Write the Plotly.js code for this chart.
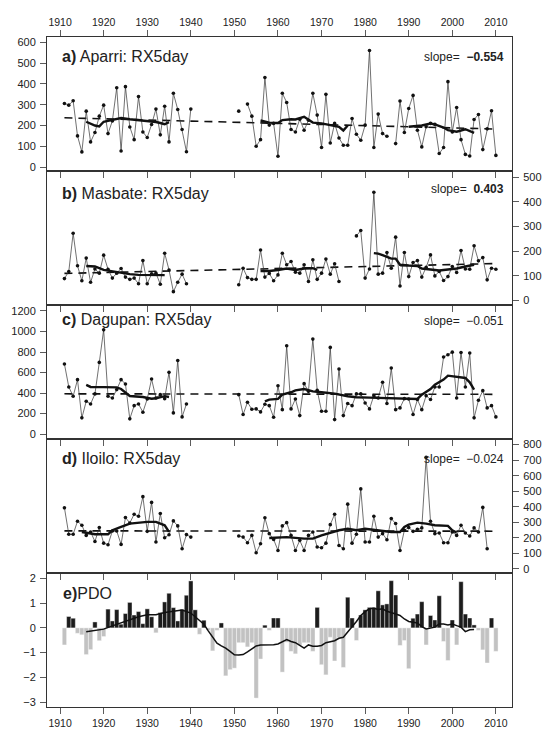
<!DOCTYPE html>
<html><head><meta charset="utf-8">
<script src="https://cdn.plot.ly/plotly-3.0.1.min.js"></script>
<style>html,body{margin:0;padding:0;background:#fff}</style>
</head><body><div id="chart" style="width:546px;height:732px"></div>
<script>
const years = [];
for (let y = 1911; y <= 2010; y++) years.push(y);

const aparri = [
306,298,319,150,73,269,121,166,245,298,
161,222,382,77,387,193,132,339,169,142,
205,279,155,293,121,355,277,181,74,279,
null,null,null,null,null,null,null,null,null,null,
269,null,303,245,100,132,431,202,210,52,
355,311,181,169,230,177,225,355,250,94,
350,116,210,140,105,105,234,158,129,202,
561,94,255,161,148,null,113,318,166,282,
345,177,97,194,210,206,65,94,411,169,
287,132,61,53,229,253,84,184,271,56];

const masbate = [
89,118,273,141,80,172,74,128,111,184,
127,91,111,130,95,86,91,68,162,68,
108,111,66,192,124,36,74,107,68,null,
null,null,null,null,null,null,null,null,null,null,
64,131,93,86,86,205,95,110,80,104,
192,145,158,115,111,145,77,165,86,111,
168,107,149,77,null,null,null,262,284,91,
128,439,107,111,195,131,257,59,195,97,
154,162,95,135,185,100,118,81,97,138,
114,203,128,127,222,161,174,84,131,127];

const dagupan = [
683,460,369,531,159,320,294,392,699,1016,
369,353,434,531,489,149,278,294,214,343,
537,353,385,346,602,207,718,168,294,null,
null,null,null,null,null,null,null,null,null,null,
385,191,311,243,246,217,291,278,165,472,
239,861,246,343,181,492,417,926,427,223,
223,845,142,634,181,298,278,392,392,304,
246,375,353,505,298,644,239,256,346,343,
191,337,239,375,337,460,460,751,773,799,
353,796,460,790,159,330,424,256,278,168];

const iloilo = [
394,223,223,307,281,216,238,177,266,166,
156,244,244,158,331,296,352,339,465,242,
428,173,357,201,220,309,277,130,221,205,
null,null,null,null,null,null,null,null,null,null,
212,205,169,216,104,162,329,227,190,119,
277,298,216,119,184,119,216,238,141,136,
166,285,352,151,130,417,166,223,515,173,
173,339,205,227,188,324,292,119,249,266,
242,255,264,718,307,227,231,169,169,238,
216,281,231,212,264,238,396,130,null,null];

const pdo = [
-0.69,0.46,0.39,-0.22,-0.28,-1.08,-0.88,0.24,-0.52,-0.35,
0.76,0.28,0.74,0.15,0.58,1.03,0.52,0.66,0.17,0.77,
0.45,-0.2,0.62,1.05,1.4,0.82,0.28,0.75,1.32,1.9,
0.73,-0.26,0.31,-0.1,-0.93,-0.1,0.2,-1.94,-1.69,-1.63,
-0.6,-0.6,-0.77,-0.6,-2.84,-1.26,0.11,-0.1,0.4,0.4,
-1.79,-0.58,-0.95,-1.05,-0.7,-0.6,-0.6,-0.95,0.83,-1.49,
-1.9,-0.38,-1.34,-0.4,-1.6,1.24,0.4,-0.51,0.52,0.73,
0.83,0.83,1.5,0.93,0.97,1.91,1.33,-0.71,-0.51,-1.65,
0.39,0.56,1.06,-0.69,0.5,0.32,1.3,-0.55,-1.32,0.32,
-0.69,1.87,0.56,0.4,0.12,-0.1,-0.89,-1.42,0.4,-0.95];

// smoothed curves, null = break
const smoothAYears = [1916,1917,1918,1919,1920,1921,1922,1923,1924,1926,1928,1930,1932,1933,1934,1935,null,
  1956,1958,1960,1961,1963,1964,1966,1967,1968,1970,1972,1974,1975,1976,null,
  1990,1992,1993,1995,1996,1998,1999,2001,2003,2005];
const smoothAVals = [218,208,200,196,218,222,226,232,236,230,226,222,217,212,206,216,null,
  224,214,212,226,230,229,242,228,214,210,202,194,176,200,null,
  194,196,200,210,205,190,178,170,182,165];

const smoothBYears = [1916,1918,1920,1922,1924,1926,1928,1931,1934,null,
  1956,1958,1960,1962,1964,1966,1968,1969,null,
  1982,1983,1984,1985,1986,1987,1988,1990,1992,1993,1995,1997,1999,2001,2003,2005];
const smoothBVals = [140,138,124,118,114,107,104,104,103,null,
  120,120,124,130,124,130,131,124,null,
  192,190,184,178,170,170,145,142,140,130,125,122,126,130,138,145];

const smoothCYears = [1916,1917,1920,1923,1924,1925,1926,1929,1931,1932,1934,1935,null,
  1957,1958,1960,1961,1963,1964,1966,1967,1968,1970,1973,1976,1978,1981,1984,1989,1992,1993,1995,1996,1998,1999,2001,2003,2004,2005];
const smoothCVals = [480,460,458,456,440,410,372,362,345,350,370,362,null,
  320,337,343,385,408,427,440,430,417,408,395,369,359,356,353,343,343,385,440,482,531,570,557,547,505,434];

const smoothDYears = [1915,1918,1921,1922,1924,1926,1930,1932,1934,1935,null,
  1958,1962,1966,1968,1970,1972,1974,1976,1978,1980,1983,1986,1988,1989,1990,1992,1994,1996,1999,2000,2001];
const smoothDVals = [238,223,223,249,270,292,303,303,281,238,null,
  199,205,195,195,216,234,249,259,249,259,249,238,238,270,285,298,292,281,277,249,234];

const smoothEYears = [1916,1918,1920,1922,1924,1926,1928,1930,1932,1934,1936,1938,1940,1942,1943,1944,1945,1946,1947,1948,1949,1950,
  1951,1952,1953,1954,1955,1956,1957,1958,1959,1960,1961,1962,1963,1964,1965,1966,1967,1968,1969,1970,
  1971,1972,1973,1974,1975,1976,1977,1978,1979,1980,1981,1982,1983,1984,1985,1986,1987,1988,1989,1990,
  1991,1992,1993,1994,1995,1996,1997,1998,1999,2000,2001,2002,2003,2004,2005];
const smoothEVals = [-0.16,-0.1,-0.05,0.08,0.21,0.35,0.45,0.53,0.53,0.62,0.68,0.72,0.6,0.28,0.15,-0.12,-0.39,-0.62,-0.73,-0.82,-0.95,-1.09,
  -1.1,-1.08,-0.97,-0.86,-0.73,-0.69,-0.69,-0.71,-0.68,-0.65,-0.55,-0.47,-0.55,-0.6,-0.71,-0.82,-0.69,-0.74,-0.74,-0.71,
  -0.6,-0.55,-0.52,-0.42,-0.38,-0.17,0.03,0.26,0.5,0.66,0.77,0.79,0.74,0.77,0.67,0.63,0.56,0.5,0.36,0.26,
  0.23,0.2,0.05,-0.04,-0.01,0.03,0.16,0.16,0.12,0.16,0.09,0.03,-0.15,-0.08,-0.07];

// linear trends (end points)
const trendYears = [1911, 2010];
const trendA = [237, 183];
const trendB = [110, 150];
const trendC = [393, 388];
const trendD = [245, 243];

const panels = [
  {vals: aparri, sy: smoothAYears, sv: smoothAVals, tr: trendA},
  {vals: masbate, sy: smoothBYears, sv: smoothBVals, tr: trendB},
  {vals: dagupan, sy: smoothCYears, sv: smoothCVals, tr: trendC},
  {vals: iloilo, sy: smoothDYears, sv: smoothDVals, tr: trendD}
];

const data = [];
panels.forEach((p, i) => {
  const xa = i === 0 ? 'x' : 'x' + (i + 1);
  const ya = i === 0 ? 'y' : 'y' + (i + 1);
  data.push({x: trendYears, y: p.tr, xaxis: xa, yaxis: ya, mode: 'lines',
    line: {color: '#111', width: 1.6, dash: '8px,6px'}, hoverinfo: 'skip'});
  data.push({x: years, y: p.vals, xaxis: xa, yaxis: ya, mode: 'lines+markers',
    connectgaps: false, line: {color: '#333', width: 0.7},
    marker: {color: '#111', size: 3.6}});
  data.push({x: p.sy, y: p.sv, xaxis: xa, yaxis: ya, mode: 'lines',
    connectgaps: false, line: {color: '#111', width: 2.4}});
});

data.push({type: 'bar', x: years, y: pdo, xaxis: 'x5', yaxis: 'y5', width: 1,
  marker: {color: pdo.map(v => v >= 0 ? '#1c1c1c' : '#c2c2c2'), line: {color: '#fff', width: 0.4}}});
data.push({x: smoothEYears, y: smoothEVals, xaxis: 'x5', yaxis: 'y5', mode: 'lines',
  line: {color: '#111', width: 1.5}});

const font = 'Liberation Sans, Arial, Helvetica, sans-serif';
const xr = [1907.0, 2013.7];
const xt = [1910,1920,1930,1940,1950,1960,1970,1980,1990,2000,2010];
function xax(extra) {
  return Object.assign({range: xr, tickvals: xt, ticks: 'outside', ticklen: 6, tickwidth: 0.8,
    tickcolor: '#333', showline: true, linecolor: '#333', linewidth: 1, showgrid: false,
    zeroline: false, mirror: true, showticklabels: false,
    tickfont: {family: font, size: 10.5, color: '#222'}}, extra);
}
function yax(extra) {
  return Object.assign({ticks: 'outside', ticklen: 6, tickwidth: 0.8, tickcolor: '#333',
    showline: true, linecolor: '#333', linewidth: 1, showgrid: false, zeroline: false,
    mirror: true, ticklabelstandoff: 2,
    tickfont: {family: font, size: 11, color: '#222'}}, extra);
}

const layout = {
  width: 546, height: 732,
  margin: {l: 47, r: 34, t: 37, b: 25},
  paper_bgcolor: '#fff', plot_bgcolor: 'rgba(0,0,0,0)',
  showlegend: false, bargap: 0,
  font: {family: font, color: '#222'},
  xaxis: xax({anchor: 'y', side: 'top', mirror: 'ticks', showticklabels: true}),
  xaxis2: xax({anchor: 'y2'}),
  xaxis3: xax({anchor: 'y3'}),
  xaxis4: xax({anchor: 'y4'}),
  xaxis5: xax({anchor: 'y5', showticklabels: true}),
  yaxis: yax({domain: [0.8, 1], range: [-19, 626], tickvals: [0,100,200,300,400,500,600], anchor: 'x'}),
  yaxis2: yax({domain: [0.6, 0.8], range: [-18, 525], tickvals: [0,100,200,300,400,500], side: 'right', anchor: 'x2'}),
  yaxis3: yax({domain: [0.4, 0.6], range: [-47, 1258], tickvals: [0,200,400,600,800,1000,1200], anchor: 'x3'}),
  yaxis4: yax({domain: [0.2, 0.4], range: [-26, 836], tickvals: [0,100,200,300,400,500,600,700,800], side: 'right', anchor: 'x4'}),
  yaxis5: yax({domain: [0, 0.2], range: [-3.2, 2.22], tickvals: [-3,-2,-1,0,1,2], anchor: 'x5'}),
  annotations: [
    {text: '<b>a)</b> Aparri: RX5day', x: 0.028, y: 0.9716},
    {text: '<b>b)</b> Masbate: RX5day', x: 0.028, y: 0.766},
    {text: '<b>c)</b> Dagupan: RX5day', x: 0.028, y: 0.579},
    {text: '<b>d)</b> Iloilo: RX5day', x: 0.028, y: 0.3716},
    {text: '<b>e)</b>PDO', x: 0.03, y: 0.170},
  ].map(a => Object.assign({xref: 'paper', yref: 'paper', xanchor: 'left', yanchor: 'middle',
      showarrow: false, font: {family: font, size: 16, color: '#222'}}, a)).concat([
    {text: 'slope=\u00a0 <b>\u22120.554</b>', y: 0.970},
    {text: 'slope=\u00a0 <b>0.403</b>', y: 0.773},
    {text: 'slope=\u00a0 \u22120.051', y: 0.576},
    {text: 'slope=\u00a0 \u22120.024', y: 0.370},
  ].map(a => Object.assign({xref: 'paper', yref: 'paper', x: 0.987, xanchor: 'right', yanchor: 'middle',
      showarrow: false, font: {family: font, size: 12, color: '#222'}}, a)))
};

Plotly.newPlot('chart', data, layout, {staticPlot: true, displayModeBar: false});
</script>
</body></html>
